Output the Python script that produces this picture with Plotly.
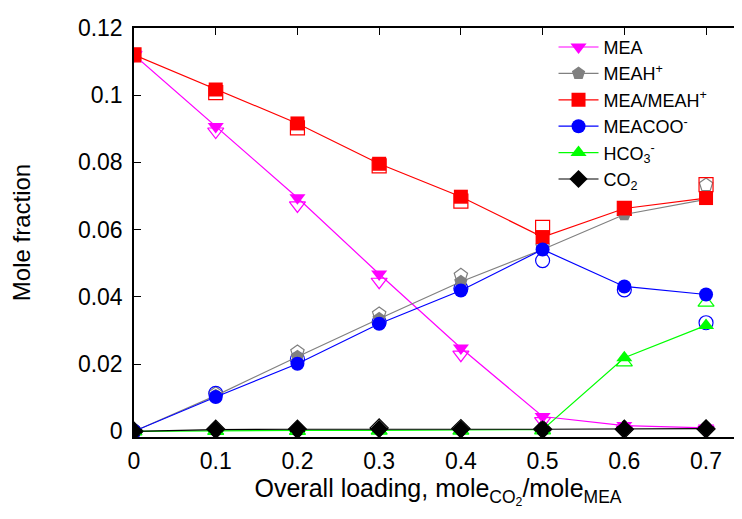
import plotly.graph_objects as go

loading = [0.0, 0.1, 0.2, 0.3, 0.4, 0.5, 0.6, 0.7]

# model (filled markers + lines)
mea_model = [0.1120, 0.0907, 0.0695, 0.0468, 0.0248, 0.0044, 0.0017, 0.0010]
meah_model = [0.0, 0.0106, 0.0222, 0.0335, 0.0445, 0.0541, 0.0645, 0.0690]
mea_meah_model = [0.1120, 0.1017, 0.0916, 0.0796, 0.0698, 0.0578, 0.0663, 0.0694]
meacoo_model = [0.0, 0.0102, 0.0201, 0.0320, 0.0419, 0.0541, 0.0431, 0.0407]
hco3_model = [0.0, 0.0002, 0.0003, 0.0003, 0.0003, 0.0005, 0.0219, 0.0315]
co2_model = [0.0, 0.0005, 0.0006, 0.0007, 0.0006, 0.0006, 0.0007, 0.0008]

# experimental (open markers)
mea_exp = [0.1120, 0.0892, 0.0672, 0.0445, 0.0228, 0.0030, 0.0005, 0.0005]
meah_exp = [0.0, 0.0112, 0.0236, 0.0349, 0.0464, 0.0550, 0.0650, 0.0733]
mea_meah_exp = [0.1120, 0.1008, 0.0903, 0.0790, 0.0685, 0.0607, 0.0663, 0.0734]
meacoo_exp = [0.0, 0.0113, 0.0215, 0.0325, 0.0425, 0.0508, 0.0421, 0.0323]
hco3_exp = [0.0, 0.0001, 0.0001, 0.0002, 0.0002, 0.0003, 0.0205, 0.0383]
co2_exp = [0.0, 0.0006, 0.0006, 0.0010, 0.0008, 0.0006, 0.0006, 0.0007]

x_ticks = [0, 0.1, 0.2, 0.3, 0.4, 0.5, 0.6, 0.7]
x_ticktext = ["0", "0.1", "0.2", "0.3", "0.4", "0.5", "0.6", "0.7"]
y_ticks = [0, 0.02, 0.04, 0.06, 0.08, 0.1, 0.12]
y_ticktext = ["0", "0.02", "0.04", "0.06", "0.08", "0.1", "0.12"]

series = [
    ("MEA", mea_model, mea_exp, "#ff00ff", "triangle-down"),
    ("MEAH<sup>+</sup>", meah_model, meah_exp, "#808080", "pentagon"),
    ("MEA/MEAH<sup>+</sup>", mea_meah_model, mea_meah_exp, "#ff0000", "square"),
    ("MEACOO<sup>-</sup>", meacoo_model, meacoo_exp, "#0000ff", "circle"),
    ("HCO<sub>3</sub><sup>-</sup>", hco3_model, hco3_exp, "#00ff00", "triangle-up"),
    ("CO<sub>2</sub>", co2_model, co2_exp, "#000000", "diamond"),
]

fig = go.Figure()

for name, model, exp, color, sym in series:
    fig.add_trace(go.Scatter(
        x=loading, y=exp, mode="markers", showlegend=False,
        marker=dict(symbol=sym + "-open", size=14, color=color,
                    line=dict(width=1.2, color=color)),
    ))

for name, model, exp, color, sym in series:
    fig.add_trace(go.Scatter(
        x=loading, y=model, mode="lines+markers", name=name,
        line=dict(color=color, width=1.2),
        marker=dict(symbol=sym, size=14, color=color, line=dict(width=0)),
    ))

font_family = "Liberation Sans, Arial, sans-serif"

fig.update_layout(
    width=742, height=519,
    margin=dict(l=126, r=8, t=7, b=90),
    plot_bgcolor="white", paper_bgcolor="white",
    font=dict(family=font_family, size=23, color="black"),
    legend=dict(
        x=0.69, y=0.998, xanchor="left", yanchor="top",
        bgcolor="rgba(0,0,0,0)", font=dict(size=18, family=font_family),
        tracegroupgap=0, itemwidth=40,
    ),
    xaxis=dict(
        range=[0, 0.744], tickvals=x_ticks, ticktext=x_ticktext,
        ticks="inside", ticklen=7, tickcolor="black", tickwidth=1.2,
        ticklabelstandoff=3, ticklabeloverflow="allow",
        showline=True, linecolor="black", linewidth=1.5, mirror="ticks",
        showgrid=False, zeroline=False,
        title=dict(text="Overall loading, mole<sub>CO<sub>2</sub></sub>/mole<sub>MEA</sub>",
                   font=dict(size=25), standoff=4),
    ),
    yaxis=dict(
        range=[-0.0017, 0.12], tickvals=y_ticks, ticktext=y_ticktext,
        ticks="inside", ticklen=7, tickcolor="black", tickwidth=1.2,
        ticklabelstandoff=5, ticklabeloverflow="allow",
        showline=True, linecolor="black", linewidth=1.5, mirror=False,
        showgrid=False, zeroline=False,
        title=dict(text="Mole fraction", font=dict(size=24), standoff=40),
    ),
)

fig.write_html("out.html")
